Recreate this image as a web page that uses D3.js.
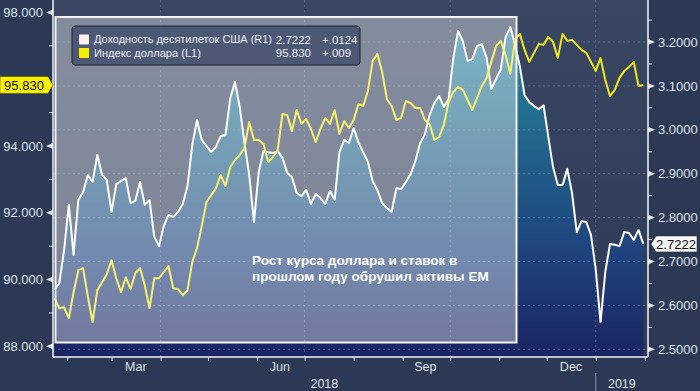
<!DOCTYPE html>
<html lang="ru">
<head>
<meta charset="utf-8">
<style>
    body { margin: 0; background: #2b3954; }
    svg { display: block; font-family: "Liberation Sans", Arial, sans-serif; }
</style>
<script src="https://cdn.jsdelivr.net/npm/d3@7"></script>
</head>
<body>
<script>
    let w = 700, h = 391;
    let left = 53, right = 648, bottom = 357;

    // one reading every 3 days starting 24 Jan 2018
    const startDate = new Date(2018, 0, 24);
    const stepDays = 3;

    const yieldVals = [2.635, 2.651, 2.726, 2.829, 2.715, 2.840, 2.858, 2.897, 2.881, 2.943,
        2.897, 2.886, 2.813, 2.877, 2.883, 2.890, 2.833, 2.838, 2.881, 2.829,
        2.840, 2.756, 2.735, 2.781, 2.806, 2.801, 2.813, 2.831, 2.872, 2.965,
        3.022, 2.977, 2.963, 2.949, 2.961, 2.986, 2.988, 3.072, 3.109, 3.052,
        2.970, 2.897, 2.790, 2.904, 2.952, 2.949, 2.947, 2.952, 2.936, 2.902,
        2.892, 2.856, 2.849, 2.863, 2.831, 2.854, 2.845, 2.831, 2.861, 2.840,
        2.949, 2.977, 2.970, 3.004, 2.972, 2.949, 2.927, 2.883, 2.863, 2.833,
        2.822, 2.813, 2.867, 2.865, 2.881, 2.899, 2.929, 2.970, 2.990, 3.034,
        3.061, 3.077, 3.052, 3.070, 3.164, 3.225, 3.202, 3.157, 3.161, 3.191,
        3.195, 3.164, 3.093, 3.116, 3.138, 3.211, 3.234, 3.193, 3.145, 3.079,
        3.063, 3.054, 3.047, 3.056, 2.984, 2.915, 2.874, 2.874, 2.911, 2.856,
        2.767, 2.792, 2.790, 2.760, 2.681, 2.562, 2.676, 2.740, 2.738, 2.735,
        2.767, 2.765, 2.749, 2.772, 2.740];

    const dxyVals = [89.44, 89.14, 89.17, 88.84, 89.62, 90.28, 90.34, 89.50, 88.72, 89.68,
        89.92, 90.16, 90.58, 90.04, 89.62, 90.07, 89.71, 90.19, 90.34, 89.83,
        89.14, 90.04, 90.04, 90.22, 90.40, 89.74, 89.71, 89.53, 89.68, 90.52,
        90.94, 91.60, 92.32, 92.53, 92.74, 93.13, 92.80, 93.37, 93.58, 93.73,
        93.94, 94.72, 94.18, 94.18, 94.06, 93.52, 93.67, 93.88, 94.96, 94.93,
        94.45, 95.08, 94.66, 94.81, 94.51, 94.12, 94.51, 94.84, 94.66, 95.08,
        94.36, 94.75, 94.54, 94.78, 95.26, 95.20, 95.65, 96.55, 96.76, 96.22,
        95.41, 95.20, 94.78, 94.84, 95.35, 95.29, 95.14, 95.14, 94.78, 94.66,
        94.18, 94.27, 94.63, 95.32, 95.62, 95.77, 95.68, 95.38, 95.08, 95.44,
        95.80, 96.04, 96.52, 97.00, 97.15, 96.73, 96.16, 97.18, 97.36, 96.88,
        96.52, 96.79, 97.06, 97.03, 97.27, 97.12, 96.64, 97.36, 97.15, 97.18,
        97.03, 96.88, 96.79, 96.52, 96.25, 96.64, 95.98, 95.50, 95.68, 96.04,
        96.25, 96.37, 96.52, 95.80, 95.83];

    const leftTicks = [88, 90, 92, 94, 98];
    const leftMinor = [89, 91, 93, 95, 97];
    const rightTicks = [2.5, 2.6, 2.7, 2.8, 2.9, 3.0, 3.1, 3.2];
    const rightMinor = [2.55, 2.65, 2.75, 2.85, 2.95, 3.05, 3.15, 3.25];
    const monthLabels = [new Date(2018, 2, 16), new Date(2018, 5, 15), new Date(2018, 8, 15), new Date(2018, 11, 16)];
    const gridDates = [new Date(2018, 3, 1), new Date(2018, 6, 1), new Date(2018, 9, 1), new Date(2019, 0, 1)];
    const yearLabels = ["2018", "2019"];
    const legendNames = ["Доходность десятилеток США (R1)", "Индекс доллара (L1)"];
    const legendLast = ["2.7222", "95.830"];
    const legendChange = ["+.0124", "+.009"];
    const noteLines = ["Рост курса доллара и ставок в", "прошлом году обрушил активы EM"];

    let dates = yieldVals.map((d, i) => d3.timeDay.offset(startDate, i * stepDays));
    let yieldData = yieldVals.map((v, i) => ({date: dates[i], v: v}));
    let dxyData = dxyVals.map((v, i) => ({date: dates[i], v: v}));

    let x = d3.scaleTime()
        .domain([new Date(2018, 0, 23), new Date(2019, 1, 3)])
        .range([left, right]);
    let yL = d3.scaleLinear().domain([88, 98]).range([346.3, 12.5]);
    let yR = d3.scaleLinear().domain([2.5, 3.2]).range([349.3, 42]);

    let svg = d3.select("body").append("svg")
        .attr("width", w)
        .attr("height", h);

    let defs = svg.append("defs");
    let bgGrad = defs.append("linearGradient").attr("id", "bgGrad")
        .attr("x1", 0).attr("y1", 0).attr("x2", 0).attr("y2", 1);
    bgGrad.append("stop").attr("offset", "0%").attr("stop-color", "#394763");
    bgGrad.append("stop").attr("offset", "100%").attr("stop-color", "#2d3a57");

    let areaGrad = defs.append("linearGradient").attr("id", "areaGrad")
        .attr("gradientUnits", "userSpaceOnUse")
        .attr("x1", 0).attr("y1", 0).attr("x2", 0).attr("y2", bottom);
    areaGrad.append("stop").attr("offset", "0%").attr("stop-color", "#2f8cb2");
    areaGrad.append("stop").attr("offset", "30%").attr("stop-color", "#23708f");
    areaGrad.append("stop").attr("offset", "70%").attr("stop-color", "#1f447e");
    areaGrad.append("stop").attr("offset", "100%").attr("stop-color", "#1b2362");

    defs.append("clipPath").attr("id", "plotClip")
        .append("rect")
        .attr("x", left).attr("y", 0)
        .attr("width", right - left).attr("height", bottom);

    svg.append("rect")
        .attr("width", w).attr("height", h)
        .attr("fill", "#2b3954");

    let plot = svg.append("g").attr("clip-path", "url(#plotClip)");

    plot.append("rect")
        .attr("x", left).attr("y", 0)
        .attr("width", right - left).attr("height", bottom)
        .attr("fill", "url(#bgGrad)");

    let area = d3.area()
        .x(d => x(d.date))
        .y0(bottom)
        .y1(d => yR(d.v));

    plot.append("path")
        .datum(yieldData)
        .attr("d", area)
        .attr("fill", "url(#areaGrad)");

    plot.selectAll(".hgrid")
        .data(rightTicks)
        .enter()
        .append("line")
        .attr("x1", left).attr("x2", right)
        .attr("y1", d => yR(d)).attr("y2", d => yR(d))
        .attr("stroke", "#6a7ea0")
        .attr("stroke-opacity", 0.6)
        .attr("stroke-dasharray", "2,3");

    plot.selectAll(".vgrid")
        .data(gridDates)
        .enter()
        .append("line")
        .attr("x1", d => x(d)).attr("x2", d => x(d))
        .attr("y1", 0).attr("y2", bottom)
        .attr("stroke", "#6a7ea0")
        .attr("stroke-opacity", 0.6)
        .attr("stroke-dasharray", "2,3");

    let lineR = d3.line().x(d => x(d.date)).y(d => yR(d.v));
    let lineL = d3.line().x(d => x(d.date)).y(d => yL(d.v));

    plot.append("path")
        .datum(yieldData)
        .attr("d", lineR)
        .attr("fill", "none")
        .attr("stroke", "#ffffff")
        .attr("stroke-width", 2)
        .attr("stroke-linejoin", "round");

    plot.append("path")
        .datum(dxyData)
        .attr("d", lineL)
        .attr("fill", "none")
        .attr("stroke", "#f2e81e")
        .attr("stroke-width", 2)
        .attr("stroke-linejoin", "round");

    // highlighted period box
    svg.append("rect")
        .attr("x", 55.5).attr("y", 17)
        .attr("width", 461).attr("height", 325.5)
        .attr("fill", "#ffffff")
        .attr("fill-opacity", 0.38)
        .attr("stroke", "#f4f4f4")
        .attr("stroke-width", 2);

    // legend
    let legend = svg.append("g");
    legend.append("rect")
        .attr("x", 72).attr("y", 26)
        .attr("width", 288).attr("height", 39)
        .attr("rx", 3)
        .attr("fill", "#4c5874")
        .attr("stroke", "#1b202c")
        .attr("stroke-width", 1);
    let legendColors = ["#fcefed", "#f6ee00"];
    let nameWidths = [178, 107];
    legendNames.forEach((name, i) => {
        let yy = 39.5 + i * 13.5;
        legend.append("rect")
            .attr("x", 79).attr("y", yy - 5)
            .attr("width", 10).attr("height", 10)
            .attr("fill", legendColors[i]);
        legend.append("text")
            .attr("x", 94).attr("y", yy)
            .attr("dy", "0.35em")
            .attr("font-size", "11px")
            .attr("textLength", nameWidths[i])
            .attr("lengthAdjust", "spacingAndGlyphs")
            .attr("fill", "#eceff4")
            .text(name);
        legend.append("text")
            .attr("x", 311).attr("y", yy)
            .attr("dy", "0.35em")
            .attr("text-anchor", "end")
            .attr("font-size", "11.5px")
            .attr("fill", "#eceff4")
            .text(legendLast[i]);
        legend.append("text")
            .attr("x", 322).attr("y", yy)
            .attr("dy", "0.35em")
            .attr("font-size", "11.5px")
            .attr("fill", "#eceff4")
            .text(legendChange[i]);
    });

    svg.selectAll(".note")
        .data(noteLines)
        .enter()
        .append("text")
        .attr("x", 252)
        .attr("y", (d, i) => 265 + i * 15.5)
        .attr("font-size", "13.5px")
        .attr("font-weight", "bold")
        .attr("fill", "#ffffff")
        .text(d => d);

    // axes
    let axisColor = "#dfe4ec";

    svg.append("g")
        .attr("transform", "translate(" + left + ",0)")
        .call(d3.axisLeft(yL).tickValues(leftTicks).tickSize(0).tickPadding(10).tickFormat(d3.format(".3f")))
        .call(g => g.select(".domain").remove())
        .selectAll("text")
        .attr("fill", axisColor)
        .attr("font-size", "13px")
        .attr("font-family", "Liberation Sans, Arial, sans-serif");

    svg.append("g")
        .attr("transform", "translate(" + right + ",0)")
        .call(d3.axisRight(yR).tickValues(rightTicks).tickSize(0).tickPadding(10).tickFormat(d3.format(".4f")))
        .call(g => g.select(".domain").remove())
        .selectAll("text")
        .attr("fill", axisColor)
        .attr("font-size", "13px")
        .attr("font-family", "Liberation Sans, Arial, sans-serif");

    svg.selectAll(".ltri")
        .data(leftTicks)
        .enter()
        .append("path")
        .attr("d", d => "M" + left + "," + (yL(d) - 3) + "L" + (left - 7) + "," + yL(d) + "L" + left + "," + (yL(d) + 3) + "Z")
        .attr("fill", axisColor);

    svg.selectAll(".rtri")
        .data(rightTicks)
        .enter()
        .append("path")
        .attr("d", d => "M" + right + "," + (yR(d) - 3) + "L" + (right + 7) + "," + yR(d) + "L" + right + "," + (yR(d) + 3) + "Z")
        .attr("fill", axisColor);

    svg.selectAll(".lminor")
        .data(leftMinor)
        .enter()
        .append("line")
        .attr("x1", left - 4).attr("x2", left)
        .attr("y1", d => yL(d)).attr("y2", d => yL(d))
        .attr("stroke", axisColor);

    svg.selectAll(".rminor")
        .data(rightMinor)
        .enter()
        .append("line")
        .attr("x1", right).attr("x2", right + 4)
        .attr("y1", d => yR(d)).attr("y2", d => yR(d))
        .attr("stroke", axisColor);

    svg.append("g")
        .attr("transform", "translate(0," + bottom + ")")
        .call(d3.axisBottom(x).ticks(d3.timeMonth.every(1)).tickSize(4).tickFormat(""))
        .call(g => g.select(".domain").remove())
        .selectAll("line")
        .attr("stroke", axisColor);

    svg.append("g")
        .attr("transform", "translate(0," + bottom + ")")
        .call(d3.axisBottom(x).tickValues(monthLabels).tickSize(0).tickPadding(5).tickFormat(d3.timeFormat("%b")))
        .call(g => g.select(".domain").remove())
        .selectAll("text")
        .attr("fill", axisColor)
        .attr("font-size", "12.5px")
        .attr("font-family", "Liberation Sans, Arial, sans-serif");

    let yearEdge = x(new Date(2019, 0, 1));
    svg.selectAll(".year")
        .data(yearLabels)
        .enter()
        .append("text")
        .attr("x", (d, i) => i == 0 ? (left + yearEdge) / 2 : (yearEdge + right) / 2)
        .attr("y", 388)
        .attr("text-anchor", "middle")
        .attr("font-size", "12.5px")
        .attr("fill", axisColor)
        .text(d => d);

    svg.append("line")
        .attr("x1", yearEdge).attr("x2", yearEdge)
        .attr("y1", 373).attr("y2", h)
        .attr("stroke", "#8e98ab");

    svg.append("line")
        .attr("x1", left).attr("x2", left).attr("y1", 0).attr("y2", bottom)
        .attr("stroke", "#f2f4f7").attr("stroke-width", 1.5);
    svg.append("line")
        .attr("x1", right).attr("x2", right).attr("y1", 0).attr("y2", bottom)
        .attr("stroke", "#f2f4f7").attr("stroke-width", 1.5);
    svg.append("line")
        .attr("x1", left).attr("x2", right).attr("y1", bottom).attr("y2", bottom)
        .attr("stroke", "#f2f4f7").attr("stroke-width", 1.5);

    // last value tags
    let lastL = yL(dxyVals[dxyVals.length - 1]);
    svg.append("path")
        .attr("d", "M0," + (lastL - 8.5) + "L48," + (lastL - 8.5) + "L53," + lastL + "L48," + (lastL + 8.5) + "L0," + (lastL + 8.5) + "Z")
        .attr("fill", "#f8f200")
        .attr("stroke", "#3a3a10")
        .attr("stroke-width", 0.5);
    svg.append("text")
        .attr("x", 24).attr("y", lastL)
        .attr("dy", "0.36em")
        .attr("text-anchor", "middle")
        .attr("font-size", "13px")
        .attr("fill", "#111111")
        .text(legendLast[1]);

    let lastR = yR(yieldVals[yieldVals.length - 1]);
    svg.append("path")
        .attr("d", "M" + (right + 3) + "," + lastR + "L" + (right + 8) + "," + (lastR - 8) + "L697," + (lastR - 8) + "L697," + (lastR + 8) + "L" + (right + 8) + "," + (lastR + 8) + "Z")
        .attr("fill", "#f5f5f5")
        .attr("stroke", "#222222")
        .attr("stroke-width", 0.5);
    svg.append("text")
        .attr("x", 676).attr("y", lastR)
        .attr("dy", "0.36em")
        .attr("text-anchor", "middle")
        .attr("font-size", "13px")
        .attr("fill", "#111111")
        .text(legendLast[0]);
</script>
</body>
</html>
